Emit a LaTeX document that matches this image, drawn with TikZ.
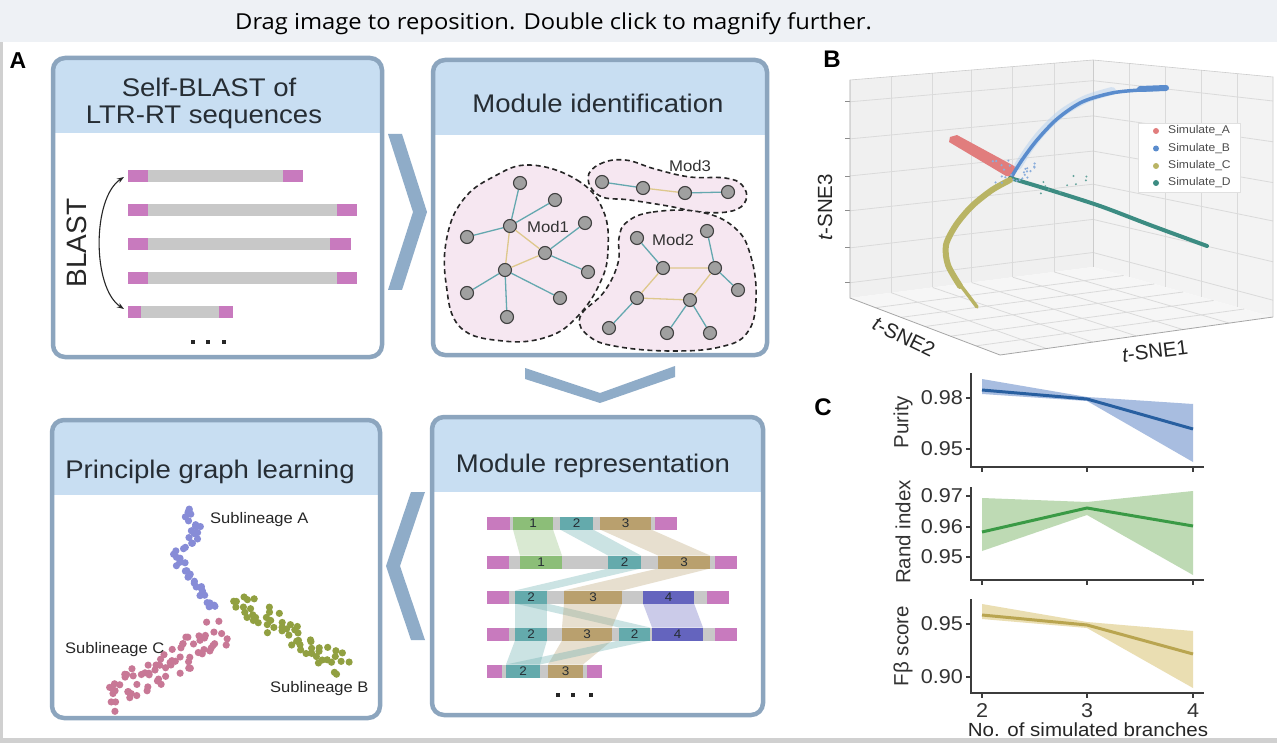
\documentclass[tikz,border=0pt]{standalone}
\usepackage{fontspec}
\setmainfont{Liberation Sans}
\newfontfamily\hf[FakeStretch=1.08]{Liberation Sans}
\newfontfamily\barfont[FakeStretch=1.08]{Open Sans}
\usetikzlibrary{calc,arrows.meta}
\definecolor{boxline}{RGB}{140,165,190}
\definecolor{hdr}{RGB}{200,222,242}
\definecolor{chev}{RGB}{143,172,200}
\definecolor{ltrc}{RGB}{200,122,190}
\definecolor{seqg}{RGB}{200,200,200}
\definecolor{blobfill}{RGB}{246,231,241}
\definecolor{nodefill}{RGB}{160,160,160}
\definecolor{edgeteal}{RGB}{100,168,175}
\definecolor{edgegold}{RGB}{222,200,140}
\definecolor{sgreen}{RGB}{140,190,120}
\definecolor{steal}{RGB}{100,170,172}
\definecolor{stan}{RGB}{185,160,110}
\definecolor{sind}{RGB}{100,100,190}
\definecolor{ptA}{RGB}{135,140,215}
\definecolor{ptB}{RGB}{145,160,65}
\definecolor{ptC}{RGB}{200,120,150}
\definecolor{txt}{RGB}{38,45,52}
\definecolor{topbar}{RGB}{238,241,245}
\definecolor{framec}{RGB}{208,208,208}
\definecolor{wallc}{RGB}{240,240,240}
\definecolor{gridc}{RGB}{218,218,218}
\definecolor{bA}{RGB}{225,125,125}
\definecolor{bB}{RGB}{90,140,205}
\definecolor{bBl}{RGB}{175,205,238}
\definecolor{bC}{RGB}{185,180,100}
\definecolor{bD}{RGB}{60,140,130}
\definecolor{l1}{RGB}{40,95,160}
\definecolor{f1}{RGB}{168,189,224}
\definecolor{l2}{RGB}{58,154,69}
\definecolor{f2}{RGB}{190,218,180}
\definecolor{l3}{RGB}{185,165,80}
\definecolor{f3}{RGB}{234,222,178}
\definecolor{spine}{RGB}{60,60,60}
\newcommand\mypanel[6]{%
  \begin{scope}
    \clip[rounded corners=12pt] (#2,#3) rectangle (#4,#5);
    \fill[white] (#2,#3) rectangle (#4,#5);
    \fill[hdr] (#2,#3) rectangle (#4,#6);
  \end{scope}
  \draw[boxline, line width=4.5pt, rounded corners=12pt] (#2,#3) rectangle (#4,#5);
  \coordinate (#1) at ($(#2,#3)!0.5!(#4,#5)$);
}
\newcommand\seg[5]{%
  \node[fill=#1, minimum width={#3-#2}, minimum height=13pt, inner sep=0pt,
        font=\hf\fontsize{12.5}{13}\selectfont, text=txt] at ({(#2+#3)/2},#4) {#5};}
\newcommand\ribbon[7]{%
  \fill[#1, opacity=.33] (#2,{#4+6.5}) -- (#3,{#4+6.5}) -- (#6,{#7-6.5}) -- (#5,{#7-6.5}) -- cycle;}
\tikzset{
  hdrtext/.style={font=\hf\fontsize{25.5}{27}\selectfont, text=txt, anchor=base, inner sep=0pt},
  chevron/.style={fill=chev},
  gnode/.style={circle, fill=nodefill, draw=black!75, line width=1.1pt, minimum size=13pt, inner sep=0pt},
  tedge/.style={edgeteal, line width=1.3pt},
  gedge/.style={edgegold, line width=1.3pt},
  blob/.style={fill=blobfill, draw=black!85, line width=1.6pt, dash pattern=on 5pt off 3.5pt},
  modlab/.style={font=\hf\fontsize{15.5}{16}\selectfont, text=black!80},
  sublab/.style={font=\hf\fontsize{15.3}{16}\selectfont, text=black!85, anchor=base west, inner sep=0pt},
  plabel/.style={font=\bfseries\fontsize{24}{24}\selectfont, text=black},
  ticklab/.style={font=\hf\fontsize{20}{20}\selectfont, text=black!80, anchor=east, inner sep=0pt},
  ylab/.style={font=\fontsize{20.5}{21}\selectfont, text=black!80, rotate=90},
  legtext/.style={font=\hf\fontsize{11.2}{12}\selectfont, text=black!70, anchor=west, inner sep=0pt},
}
\begin{document}
\begin{tikzpicture}[x=1pt,y=-1pt]
\useasboundingbox (0,0) rectangle (1277,743);
\fill[white] (0,0) rectangle (1277,743);
% top bar
\fill[topbar] (0,0) rectangle (1277,42);
\node[font=\barfont\fontsize{22}{22}\selectfont, text=black, anchor=base west, inner sep=0pt] (bar) at (235,30)
  {Drag image to reposition. Double click to magnify further.};

% ---------- Panel A ----------
\node[font=\bfseries\fontsize{23}{23}\selectfont] (labA) at (18,61) {A};

\mypanel{b1}{53}{58}{382}{357}{133}
\mypanel{b2}{433}{60}{767}{355}{135}
\mypanel{b3}{432}{417}{763}{715}{492}
\mypanel{b4}{52}{420}{380}{718}{495}

\node[hdrtext] (t1a) at (209,97) {Self-BLAST of};
\node[hdrtext] (t1b) at (204,124) {LTR-RT sequences};
\node[hdrtext] (t2) at (598,113) {Module identification};
\node[hdrtext] (t3) at (593,472) {Module representation};
\node[hdrtext] (t4) at (210,478) {Principle graph learning};

% chevrons
\fill[chevron] (388,134) -- (402,134) -- (427,212) -- (402,290) -- (388,290) -- (413,212) -- cycle;
\fill[chevron] (525,368) -- (600,393) -- (675,366) -- (675,377) -- (600,403) -- (525,379) -- cycle;
\fill[chevron] (425,492) -- (411,492) -- (386,566) -- (411,640) -- (425,640) -- (400,566) -- cycle;

% box 1: sequences
\foreach \y/\a/\b/\c/\d in {176/128/303/148/283, 210/128/357/148/337, 244/128/351/148/330, 278/128/357/148/337, 312/128/233/141/219}{
  \fill[seqg] (\a,\y-6) rectangle (\b,\y+6);
  \fill[ltrc] (\a,\y-6) rectangle (\c,\y+6);
  \fill[ltrc] (\d,\y-6) rectangle (\b,\y+6);
}
\foreach \x in {193,208,224}{\fill[black!85] (\x-2,340) rectangle (\x+2,344);}
\node[rotate=90, font=\fontsize{28}{28}\selectfont, text=black!85] (blast) at (77,243) {BLAST};
\coordinate (ba1) at (124,177);
\coordinate (ba2) at (124,309);
\draw[{Stealth[length=7pt,width=5pt]}-{Stealth[length=7pt,width=5pt]}, line width=1.1pt, black!85]
  (ba1) .. controls (92,198) and (92,288) .. (ba2);

% box 2: modules
\draw[blob] plot[smooth cycle, tension=0.7] coordinates {(530,165)(577,180)(603,210)(608,250)(600,283)(577,317)(547,337)(503,341)(460,327)(446,283)(447,237)(463,200)(493,177)};
\draw[blob] plot[smooth cycle, tension=0.7] coordinates {(588,178)(600,164)(625,160)(655,169)(690,177)(725,178)(742,185)(746,200)(732,211)(700,212)(668,206)(630,200)(600,196)};
\draw[blob] plot[smooth cycle, tension=0.7] coordinates {(627,222)(653,212)(700,212)(735,228)(751,257)(756,300)(747,333)(720,347)(673,351)(620,347)(590,337)(580,317)(604,292)(618,263)(619,238)};
\node[modlab] (lm1) at (548,227) {Mod1};
\node[modlab] (lm3) at (690,166) {Mod3};
\node[modlab] (lm2) at (673,240) {Mod2};
% Mod1 nodes
\node[gnode] (n1) at (520,183) {};
\node[gnode] (n2) at (555,200) {};
\node[gnode] (n3) at (510,226) {};
\node[gnode] (n4) at (467,237) {};
\node[gnode] (n5) at (585,223) {};
\node[gnode] (n6) at (545,253) {};
\node[gnode] (n7) at (505,270) {};
\node[gnode] (n8) at (588,272) {};
\node[gnode] (n9) at (467,293) {};
\node[gnode] (n10) at (560,298) {};
\node[gnode] (n11) at (507,317) {};
\draw[tedge] (n3)--(n1) (n3)--(n2) (n3)--(n4) (n6)--(n5) (n6)--(n8) (n7)--(n9) (n7)--(n10) (n7)--(n11);
\draw[gedge] (n3)--(n6) (n3)--(n7) (n7)--(n6);
% Mod3 nodes
\node[gnode] (m1) at (602,182) {};
\node[gnode] (m2) at (643,188) {};
\node[gnode] (m3) at (685,193) {};
\node[gnode] (m4) at (728,192) {};
\draw[tedge] (m1)--(m2) (m3)--(m4);
\draw[gedge] (m2)--(m3);
% Mod2 nodes
\node[gnode] (p1) at (637,238) {};
\node[gnode] (p2) at (707,231) {};
\node[gnode] (p3) at (663,268) {};
\node[gnode] (p4) at (715,268) {};
\node[gnode] (p5) at (738,290) {};
\node[gnode] (p6) at (637,298) {};
\node[gnode] (p7) at (690,300) {};
\node[gnode] (p8) at (609,328) {};
\node[gnode] (p9) at (667,333) {};
\node[gnode] (p10) at (710,333) {};
\draw[tedge] (p1)--(p3) (p2)--(p4) (p4)--(p5) (p6)--(p8) (p7)--(p9) (p7)--(p10);
\draw[gedge] (p3)--(p4) (p3)--(p6) (p6)--(p7) (p7)--(p4);

% box 3: module representation
\ribbon{sgreen}{513}{553}{523}{520}{562}{562}
\ribbon{steal}{560}{593}{523}{608}{641}{562}
\ribbon{stan}{600}{651}{523}{658}{710}{562}
\ribbon{steal}{608}{641}{562}{515}{547}{597}
\ribbon{stan}{658}{710}{562}{564}{622}{597}
\ribbon{steal}{515}{547}{597}{515}{547}{634}
\ribbon{steal}{515}{547}{597}{619}{650}{634}
\ribbon{stan}{564}{622}{597}{562}{612}{634}
\ribbon{sind}{643}{694}{597}{652}{703}{634}
\ribbon{steal}{515}{547}{634}{506}{540}{671}
\ribbon{stan}{562}{612}{634}{548}{583}{671}
\ribbon{steal}{619}{650}{634}{506}{540}{671}
% rows
\fill[seqg] (487,516.5) rectangle (677,529.5);
\seg{ltrc}{487}{510}{523}{}
\seg{sgreen}{513}{553}{523}{1}
\seg{steal}{560}{593}{523}{2}
\seg{stan}{600}{651}{523}{3}
\seg{ltrc}{655}{677}{523}{}
\fill[seqg] (487,555.5) rectangle (737,568.5);
\seg{ltrc}{487}{509}{562}{}
\seg{sgreen}{520}{562}{562}{1}
\seg{steal}{608}{641}{562}{2}
\seg{stan}{658}{710}{562}{3}
\seg{ltrc}{715}{737}{562}{}
\fill[seqg] (487,590.5) rectangle (729,603.5);
\seg{ltrc}{487}{509}{597}{}
\seg{steal}{515}{547}{597}{2}
\seg{stan}{564}{622}{597}{3}
\seg{sind}{643}{694}{597}{4}
\seg{ltrc}{707}{729}{597}{}
\fill[seqg] (487,627.5) rectangle (737,640.5);
\seg{ltrc}{487}{509}{634}{}
\seg{steal}{515}{547}{634}{2}
\seg{stan}{562}{612}{634}{3}
\seg{steal}{619}{650}{634}{2}
\seg{sind}{652}{703}{634}{4}
\seg{ltrc}{715}{737}{634}{}
\fill[seqg] (487,664.5) rectangle (602,677.5);
\seg{ltrc}{487}{502}{671}{}
\seg{steal}{506}{540}{671}{2}
\seg{stan}{548}{583}{671}{3}
\seg{ltrc}{587}{602}{671}{}
\foreach \x in {558,573,591}{\fill[black!85] (\x-2,693) rectangle (\x+2,697);}

% box 4: principal graph
\pgfmathsetseed{11}
\foreach \i in {0,...,45}{
  \pgfmathsetmacro\tv{\i/45}
  \pgfmathsetmacro\px{184+18*\tv*\tv*\tv+9*sin(\tv*500)+8*rand}
  \pgfmathsetmacro\py{509+100*\tv+3*rand}
  \fill[ptA] (\px,\py) circle (3.6pt);
}
\foreach \i in {0,...,55}{
  \pgfmathsetmacro\tv{\i/55}
  \pgfmathsetmacro\nv{rand}
  \pgfmathsetmacro\px{236+108*\tv-0.55*11*\nv+2*rand}
  \pgfmathsetmacro\py{599+68*\tv+0.84*11*\nv}
  \fill[ptB] (\px,\py) circle (3.6pt);
}
\foreach \i in {0,...,70}{
  \pgfmathsetmacro\tv{\i/70}
  \pgfmathsetmacro\nv{rand}
  \pgfmathsetmacro\px{222-112*\tv+0.53*15*\nv+3*rand}
  \pgfmathsetmacro\py{630+72*\tv+0.85*15*\nv}
  \fill[ptC] (\px,\py) circle (3.6pt);
}
\node[sublab] (sa) at (210,523) {Sublineage A};
\node[sublab] (sb) at (270,692) {Sublineage B};
\node[sublab] (sc) at (65,653) {Sublineage C};

% ---------- Panel B ----------
\node[plabel] (labB) at (832,59) {B};
\coordinate (LT) at (850,80);
\coordinate (LB) at (850,298);
\coordinate (CT) at (1093,60);
\coordinate (CB) at (1093,267);
\coordinate (RT) at (1273,77);
\coordinate (RB) at (1273,317);
\coordinate (FF) at (1000,355);
\fill[wallc] (LT) -- (CT) -- (CB) -- (LB) -- cycle;
\fill[wallc!80!white] (CT) -- (RT) -- (RB) -- (CB) -- cycle;
\fill[wallc!60!white] (LB) -- (CB) -- (RB) -- (FF) -- cycle;
\foreach \f in {0.17,0.34,0.5,0.67,0.84}{
  \draw[gridc, line width=0.8pt] ($(LT)!\f!(CT)$) -- ($(LB)!\f!(CB)$);}
\foreach \f in {0.1,0.27,0.44,0.6,0.77,0.93}{
  \draw[gridc, line width=0.8pt] ($(LT)!\f!(LB)$) -- ($(CT)!\f!(CB)$) -- ($(RT)!\f!(RB)$);
  \draw[black!45, line width=0.8pt] ($(LT)!\f!(LB)$) -- ++(-5,0);}
\foreach \f in {0.2,0.4,0.6,0.8}{
  \draw[gridc, line width=0.8pt] ($(CT)!\f!(RT)$) -- ($(CB)!\f!(RB)$);}
\foreach \f in {0.17,0.34,0.5,0.67,0.84}{
  \draw[gridc, line width=0.8pt] ($(LB)!\f!(FF)$) -- ($(CB)!\f!(RB)$);
  \draw[gridc, line width=0.8pt] ($(LB)!\f!(CB)$) -- ($(FF)!\f!(RB)$);}
\draw[black!35, line width=0.8pt] (LT) -- (LB) -- (FF) -- (RB);
\draw[black!20, line width=0.6pt] (LT) -- (CT) -- (RT) -- (RB);
\draw[black!20, line width=0.6pt] (CT) -- (CB);
% scatter
\fill[bA] (950,137) -- (957,135) -- (1016,167) -- (1014,177) -- (1006,176) -- (949,142) -- cycle;
\draw[bBl, line width=8pt, line cap=round, opacity=.45] plot[smooth] coordinates {(1018,166)(1028,150)(1042,132)(1062,113)(1086,99)(1112,91)};
\draw[bB, line width=3.5pt, line cap=round] plot[smooth] coordinates {(1012,176)(1022,160)(1037,140)(1057,119)(1082,102)(1112,93)(1140,90)(1166,89)};
\draw[bB, line width=6pt, line cap=round] (1140,89) -- (1166,88);
\draw[bD, line width=4pt, line cap=round] plot[smooth] coordinates {(1010,178)(1050,190)(1100,206)(1150,225)(1207,246)};
\draw[bC, line width=6pt, line cap=round] plot[smooth] coordinates {(1010,180)(992,190)(972,206)(956,225)(946,245)(948,265)(960,286)};
\draw[bC, line width=3.5pt, line cap=round] plot[smooth] coordinates {(958,282)(968,295)(977,307)};
\pgfmathsetseed{5}
\foreach \i in {1,...,25}{
  \pgfmathsetmacro\px{1015+25*rand}
  \pgfmathsetmacro\py{172+12*rand}
  \fill[bB!70] (\px,\py) circle (1.2pt);
}
\foreach \i in {1,...,10}{
  \pgfmathsetmacro\px{1040+60*rnd}
  \pgfmathsetmacro\py{186+10*rand}
  \fill[bD!80] (\px,\py) circle (1.1pt);
}
\node[draw=black!12, fill=white, minimum width=102pt, minimum height=69pt, inner sep=0pt] (leg) at (1189,157.5) {};
\foreach \c/\t/\yy in {bA/Simulate\_A/131, bB/Simulate\_B/148.5, bC/Simulate\_C/166, bD/Simulate\_D/183}{
  \fill[\c] (1156,\yy) circle (3pt);
  \node[legtext] at (1168,\yy) {\t};
}
\node[font=\fontsize{20.5}{21}\selectfont, rotate=90, text=black!85] (ax3) at (825,207) {{\itshape t}-SNE3};
\node[font=\fontsize{20.5}{21}\selectfont, rotate=-26, text=black!85] (ax2) at (904,337) {{\itshape t}-SNE2};
\node[font=\fontsize{20.5}{21}\selectfont, rotate=7, text=black!85] (ax1) at (1155,351) {{\itshape t}-SNE1};

% ---------- Panel C ----------
\node[plabel] (labC) at (823,407) {C};
% plot 1
\fill[f1] (982,379) -- (1087,397) -- (1193,404) -- (1193,462) -- (1087,401) -- (982,394) -- cycle;
\draw[l1, line width=3pt] (982,390) -- (1087,399) -- (1193,429);
% plot 2
\fill[f2] (982,498) -- (1087,502) -- (1193,491) -- (1193,575) -- (1087,515) -- (982,551) -- cycle;
\draw[l2, line width=3pt] (982,532) -- (1087,508) -- (1193,526);
% plot 3
\fill[f3] (982,604) -- (1087,622) -- (1193,631) -- (1193,688) -- (1087,628) -- (982,619) -- cycle;
\draw[l3, line width=3pt] (982,615) -- (1087,625) -- (1193,654);
% axes
\foreach \top/\bot in {373/467, 487/580, 599/693}{
  \draw[spine, line width=1.6pt] (971,\top) -- (971,\bot) -- (1204,\bot);
  \foreach \x in {982,1087,1193}{\draw[spine, line width=1.6pt] (\x,\bot) -- (\x,\bot+5);}
}
\foreach \y/\t in {398/0.98, 449/0.95, 496/0.97, 527/0.96, 557/0.95, 624/0.95, 677/0.90}{
  \draw[spine, line width=1.6pt] (971,\y) -- (966,\y);
  \node[ticklab] at (963,\y) {\t};
}
\node[ylab] (yl1) at (903,422) {Purity};
\node[ylab] (yl2) at (903,532) {Rand index};
\node[ylab] (yl3) at (903,646) {Fβ score};
\foreach \x/\t in {982/2, 1087/3, 1193/4}{
  \node[font=\hf\fontsize{20}{20}\selectfont, text=black!80, anchor=base, inner sep=0pt] at (\x,717) {\t};}
\node[font=\hf\fontsize{19}{19}\selectfont, text=black!85, anchor=base, inner sep=0pt] (xl) at (1088,736) {No. of simulated branches};

% frame
\fill[framec] (0,738) rectangle (1277,743);
\fill[framec] (0,42) rectangle (3,743);
\end{tikzpicture}
\end{document}
